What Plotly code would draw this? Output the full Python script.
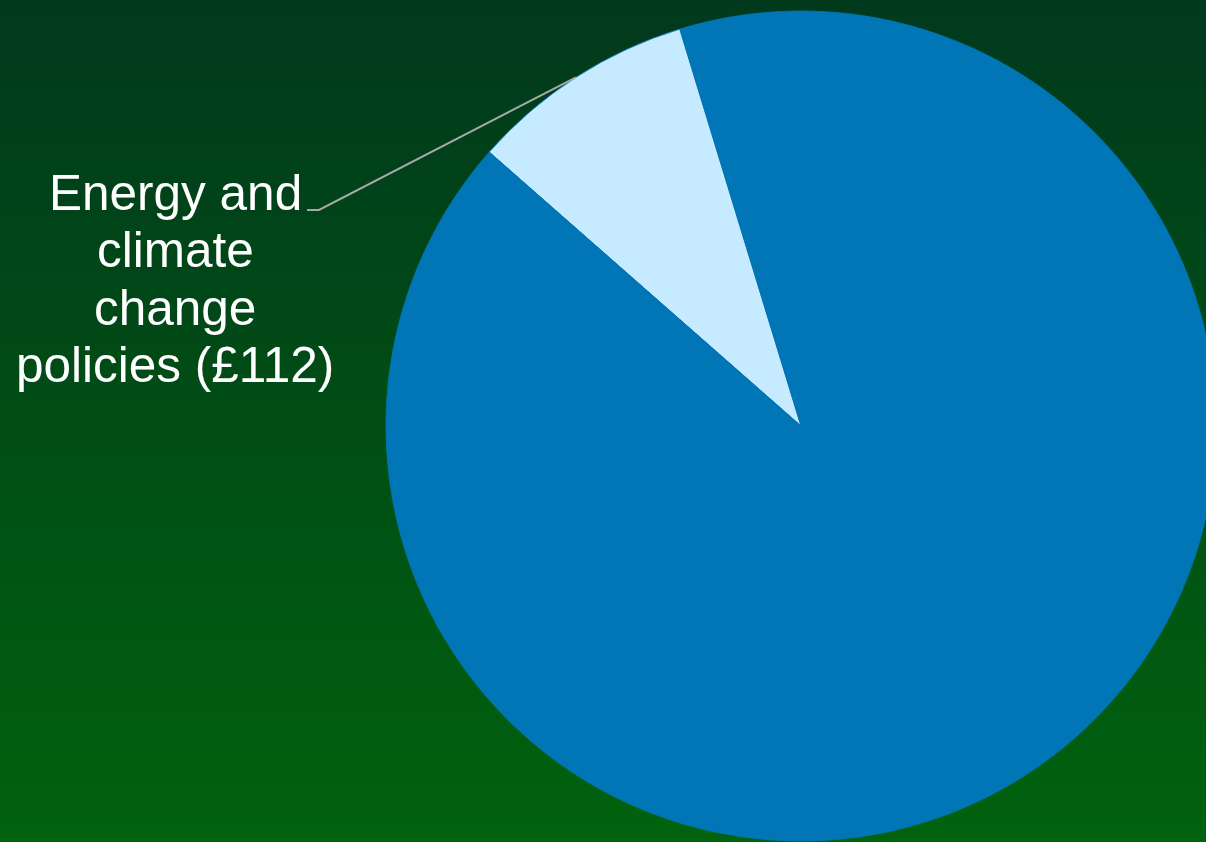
import math
import base64
import plotly.graph_objects as go

# ---------------- data ----------------
labels = ["Energy and climate change policies", "Other costs"]
values = [112, 1159]
label_lines = ["Energy and", "climate", "change", f"policies (£{values[0]})"]

# ---------------- style ----------------
slice_colors = ["#C6EAFF", "#0076B6"]
bg_top, bg_bottom = "#01391D", "#00620E"
W, H = 1216, 842
start_rotation = -48.7  # clockwise start angle of first slice (deg from 12 o'clock)
font_size = 49.5

dom_x = [386 / W, 1.0]
dom_y = [1 / H, 831 / H]

fig = go.Figure(
    go.Pie(
        labels=labels,
        values=values,
        sort=False,
        direction="clockwise",
        rotation=start_rotation,
        marker=dict(colors=slice_colors, line=dict(color="#0076B6", width=0.8)),
        textinfo="none",
        hoverinfo="label+value",
        domain=dict(x=dom_x, y=dom_y),
        showlegend=False,
    )
)

# background gradient as an SVG image
svg = (
    '<svg xmlns="http://www.w3.org/2000/svg" width="10" height="100" '
    'viewBox="0 0 10 100" preserveAspectRatio="none">'
    '<defs><linearGradient id="g" x1="0" y1="0" x2="0" y2="1">'
    f'<stop offset="0" stop-color="{bg_top}"/><stop offset="1" stop-color="{bg_bottom}"/>'
    '</linearGradient></defs><rect width="10" height="100" fill="url(#g)"/></svg>'
)
uri = "data:image/svg+xml;base64," + base64.b64encode(svg.encode()).decode()

# pie geometry (pixels) derived from domain
px_w = (dom_x[1] - dom_x[0]) * W
px_h = (dom_y[1] - dom_y[0]) * H
r = min(px_w, px_h) / 2
cx = (dom_x[0] + dom_x[1]) / 2 * W
cy = H - (dom_y[0] + dom_y[1]) / 2 * H
mid = math.radians(start_rotation + 360 * values[0] / sum(values) / 2)
ex, ey = cx + r * math.sin(mid), cy - r * math.cos(mid)


def pxp(x, y):
    return x / W, 1 - y / H


p0 = pxp(307, 210)
p1 = pxp(319, 210)
p2 = pxp(ex, ey)
path = f"M {p0[0]},{p0[1]} L {p1[0]},{p1[1]} L {p2[0]},{p2[1]}"

annotations = []
for i, line in enumerate(label_lines):
    yc = 209.5 + 57.5 * i - 0.3465 * font_size
    annotations.append(
        dict(
            text=line,
            x=175 / W,
            y=1 - yc / H,
            xref="paper",
            yref="paper",
            xanchor="center",
            yanchor="middle",
            showarrow=False,
            font=dict(family="Liberation Sans, Arial, sans-serif", size=font_size, color="white"),
        )
    )

fig.update_layout(
    width=W,
    height=H,
    margin=dict(l=0, r=0, t=0, b=0),
    paper_bgcolor="#024d17",
    plot_bgcolor="rgba(0,0,0,0)",
    images=[
        dict(
            source=uri,
            xref="paper",
            yref="paper",
            x=0,
            y=1,
            sizex=1,
            sizey=1,
            xanchor="left",
            yanchor="top",
            sizing="stretch",
            layer="below",
        )
    ],
    shapes=[dict(type="path", path=path, xref="paper", yref="paper",
                 line=dict(color="#A8A8A8", width=2))],
    annotations=annotations,
)

fig.write_html(
    "out.html",
    config={"displayModeBar": False},
    post_script=(
        "document.documentElement.style.overflow='hidden';"
        "document.body.style.overflow='hidden';"
        "document.body.style.margin='0';"
    ),
)
